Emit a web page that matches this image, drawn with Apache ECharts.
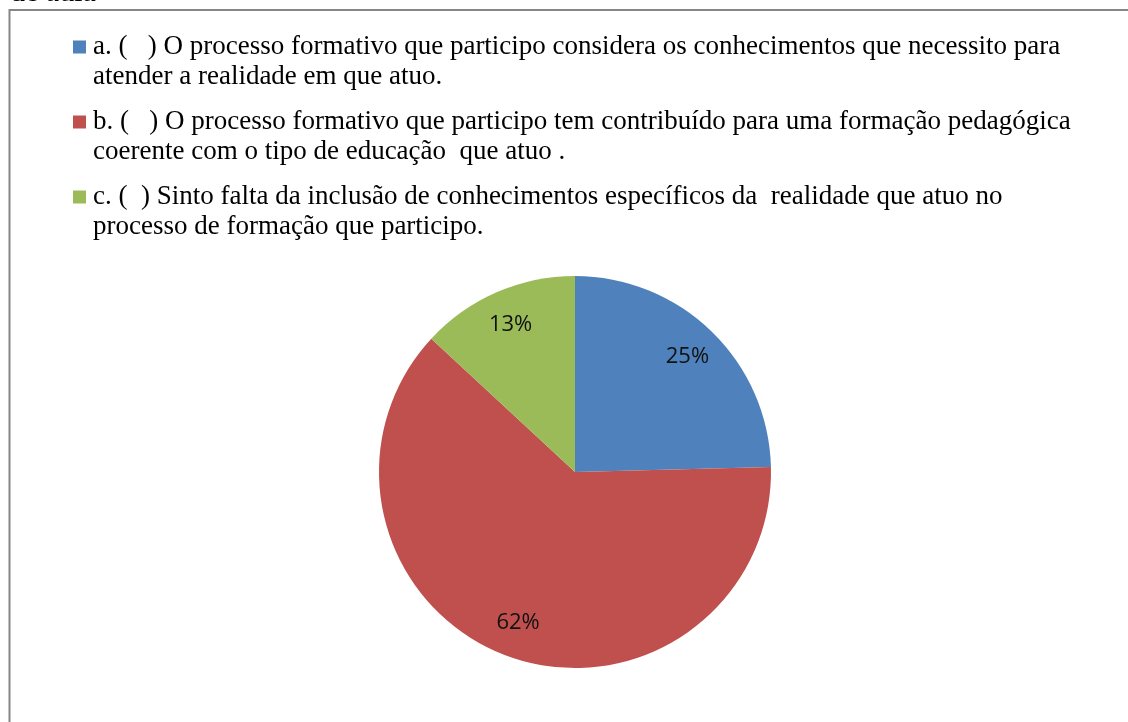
<!DOCTYPE html>
<html>
<head>
<meta charset="utf-8">
<script src="https://cdn.jsdelivr.net/npm/echarts@6/dist/echarts.min.js"></script>
<style>
  html, body { margin: 0; padding: 0; background: #ffffff; }
  #chart { width: 1128px; height: 722px; }
</style>
</head>
<body>
<div id="chart"></div>
<script>
// categorias (texto da legenda, com quebra de linha)
const categories = [
  'a. (   ) O processo formativo que participo considera os conhecimentos que necessito para\natender a realidade em que atuo.',
  'b. (   ) O processo formativo que participo tem contribuído para uma formação pedagógica\ncoerente com o tipo de educação  que atuo .',
  'c. (  ) Sinto falta da inclusão de conhecimentos específicos da  realidade que atuo no\nprocesso de formação que participo.'
];
// percentuais
const values = [24.6, 62.3, 13.1];
const colors = ['#4F81BD', '#C0504D', '#9BBB59'];
const headingText = 'de aula';

const chart = echarts.init(document.getElementById('chart'));

const pieData = categories.map((name, i) => ({
  name: name,
  value: values[i],
  itemStyle: { color: colors[i] }
}));

const option = {
  animation: false,
  backgroundColor: '#ffffff',
  graphic: [
    {
      type: 'rect',
      shape: { x: 9.5, y: 10, width: 1140, height: 740 },
      style: { fill: 'none', stroke: '#868686', lineWidth: 2 },
      silent: true
    },
    {
      type: 'text',
      left: 10,
      top: -22,
      style: {
        text: headingText,
        font: '30px "Liberation Serif"',
        fill: '#000000'
      },
      silent: true
    }
  ],
  legend: {
    orient: 'vertical',
    left: 73,
    top: 2,
    padding: 0,
    itemGap: -15,
    itemWidth: 13,
    itemHeight: 13,
    icon: 'rect',
    selectedMode: false,
    data: categories,
    // linha vazia antes, para o ícone ficar alinhado com a 1a linha
    formatter: function (name) {
      return '\n' + name;
    },
    textStyle: {
      fontFamily: 'Liberation Serif',
      fontSize: 27,
      lineHeight: 30,
      padding: [0, 0, 0, 2],
      color: '#000000'
    }
  },
  series: [
    {
      name: 'fatias',
      type: 'pie',
      center: [575, 472],
      radius: [0, 196],
      startAngle: 90,
      clockwise: true,
      label: { show: false },
      labelLine: { show: false },
      emphasis: { disabled: true },
      data: pieData
    },
    {
      name: 'rotulos',
      type: 'pie',
      center: [575, 472],
      radius: [120, 196],
      startAngle: 90,
      clockwise: true,
      silent: true,
      itemStyle: { color: 'rgba(0,0,0,0)' },
      labelLine: { show: false },
      label: {
        show: true,
        position: 'inside',
        fontFamily: 'Open Sans',
        fontSize: 22,
        color: '#111111',
        formatter: function (p) {
          return Math.round(p.value) + '%';
        }
      },
      emphasis: { disabled: true },
      data: categories.map((name, i) => ({ name: name, value: values[i] }))
    }
  ]
};

chart.setOption(option);
</script>
</body>
</html>
